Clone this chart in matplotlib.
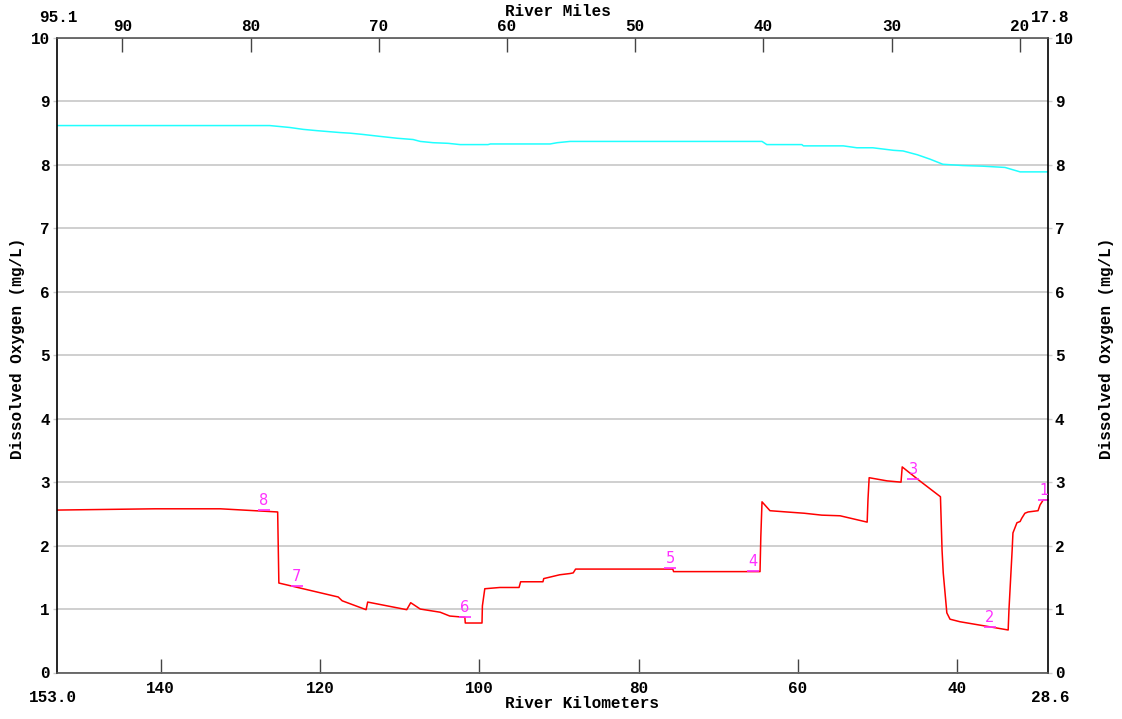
import matplotlib
matplotlib.use('Agg')
import matplotlib.pyplot as plt

# dissolved oxygen profiles along the river, km vs mg/L
do_km = [153.0, 140.7, 132.5, 125.3, 125.15, 117.7, 117.2, 114.2, 114.0, 109.1,
         108.6, 107.4, 104.9, 103.7, 101.8, 101.75, 99.65, 99.6, 99.3, 97.4,
         95.0, 94.8, 92.0, 91.9, 90.9, 89.9, 88.6, 88.2, 87.9, 75.7,
         75.6, 64.75, 64.65, 64.5, 63.5, 61.4, 59.2, 57.0, 54.7, 51.3,
         51.2, 51.05, 48.8, 47.05, 46.9, 44.7, 42.1, 41.9, 41.75, 41.3,
         40.9, 39.65, 35.9, 33.6, 33.5, 33.1, 33.0, 32.5, 32.1, 31.9,
         31.5, 31.1, 29.85, 29.6, 29.2, 28.6]
do_min = [2.56, 2.58, 2.58, 2.53, 1.41, 1.19, 1.13, 0.99, 1.11, 0.99,
          1.10, 1.00, 0.95, 0.89, 0.87, 0.78, 0.78, 1.05, 1.32, 1.34,
          1.34, 1.43, 1.43, 1.48, 1.51, 1.54, 1.56, 1.57, 1.63, 1.63,
          1.59, 1.59, 2.14, 2.69, 2.55, 2.53, 2.51, 2.48, 2.47, 2.37,
          2.72, 3.07, 3.02, 3.00, 3.24, 3.02, 2.77, 1.93, 1.57, 0.94,
          0.84, 0.80, 0.72, 0.67, 0.99, 1.93, 2.20, 2.36, 2.38, 2.43,
          2.51, 2.53, 2.55, 2.64, 2.72, 2.72]

sat_km = [153.0, 126.3, 123.8, 122.1, 120.4, 117.5, 116.2, 114.6, 112.5, 110.3,
          108.3, 107.4, 105.8, 103.9, 102.4, 98.9, 98.6, 91.1, 90.2, 88.6,
          64.5, 63.9, 59.5, 59.3, 54.3, 52.6, 50.6, 48.0, 46.8, 45.0,
          43.4, 41.8, 39.3, 36.8, 34.0, 32.1, 28.6]
sat_do = [8.62, 8.62, 8.59, 8.56, 8.54, 8.51, 8.50, 8.48, 8.45, 8.42,
          8.40, 8.37, 8.35, 8.34, 8.32, 8.32, 8.33, 8.33, 8.35, 8.37,
          8.37, 8.32, 8.32, 8.30, 8.30, 8.27, 8.27, 8.23, 8.22, 8.16,
          8.09, 8.01, 7.99, 7.98, 7.96, 7.89, 7.89]

# station markers
stn_names = ['8', '7', '6', '5', '4', '3', '2', '1']
stn_km = [127.0, 122.9, 101.8, 76.0, 65.6, 45.5, 35.9, 29.1]
stn_do = [2.56, 1.37, 0.87, 1.65, 1.60, 3.05, 0.72, 2.72]

km_range = (153.0, 28.6)
mi_range = (95.1, 17.8)
km_ticks = [140, 120, 100, 80, 60, 40]
mi_ticks = [90, 80, 70, 60, 50, 40, 30, 20]
do_ticks = list(range(0, 11))

MONO = 'Liberation Mono'
FS = 11.5

fig = plt.figure(figsize=(11.22, 7.19), dpi=100)
ax = fig.add_axes([57 / 1122, 1 - 672.5 / 719, 991 / 1122, 634.5 / 719])

ax.plot(sat_km, sat_do, color='#20ffff', lw=1.1)
ax.plot(do_km, do_min, color='#ff0000', lw=1.1)
ax.plot(stn_km, stn_do, ls='none', marker='_', ms=9, mew=1.2, color='#ff30ff')
for name, k, v in zip(stn_names, stn_km, stn_do):
    ax.text(k, v + 0.03, name, color='#ff30ff', ha='center', va='bottom',
            family='DejaVu Sans', fontsize=10.5)

ax.set_xlim(*km_range)
ax.set_ylim(0, 10)
ax.set_yticks(do_ticks)
ax.set_xticks(km_ticks)
ax.yaxis.grid(True, color='#cccccc', lw=1.3)
ax.set_axisbelow(True)

ax.tick_params(axis='x', direction='in', length=10, width=1, color='#444444',
               pad=6, labelsize=FS)
ax.tick_params(axis='y', direction='out', length=3, width=1, color='#cccccc',
               pad=2, labelsize=FS, right=True, labelright=True)
for lab in ax.get_xticklabels() + ax.get_yticklabels():
    lab.set_family(MONO)
    lab.set_weight('bold')

for side in ('left', 'right'):
    ax.spines[side].set_color('black')
    ax.spines[side].set_linewidth(1.2)
for side in ('top', 'bottom'):
    ax.spines[side].set_color('#555555')
    ax.spines[side].set_linewidth(1.2)

# river miles along the top
top = ax.twiny()
top.set_xlim(*mi_range)
top.set_xticks(mi_ticks)
top.tick_params(axis='x', direction='in', length=10, width=1, color='#444444',
                pad=3, labelsize=FS)
for lab in top.get_xticklabels():
    lab.set_family(MONO)
    lab.set_weight('bold')
for s in top.spines.values():
    s.set_visible(False)

txt = dict(family=MONO, weight='bold', fontsize=FS)
fig.text(505 / 1122, 1 - 12 / 719, 'River Miles', ha='left', va='center', **txt)
fig.text(505 / 1122, 1 - 704 / 719, 'River Kilometers', ha='left', va='center', **txt)
fig.text(58 / 1122, 1 - 17 / 719, '95.1', ha='center', va='center', **txt)
fig.text(1050 / 1122, 1 - 17 / 719, '17.8', ha='center', va='center', **txt)
fig.text(53 / 1122, 1 - 697 / 719, '153.0', ha='center', va='center', **txt)
fig.text(1050 / 1122, 1 - 697 / 719, '28.6', ha='center', va='center', **txt)
fig.text(18 / 1122, 1 - 348 / 719, 'Dissolved Oxygen (mg/L)', rotation=90,
         ha='center', va='center', **txt)
fig.text(1107 / 1122, 1 - 348 / 719, 'Dissolved Oxygen (mg/L)', rotation=90,
         ha='center', va='center', **txt)

fig.savefig('out.png', dpi=100, facecolor='white')
